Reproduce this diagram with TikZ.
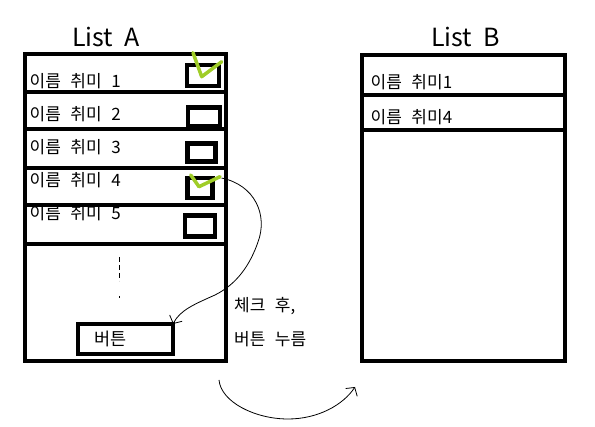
\documentclass[tikz,border=0pt]{standalone}
\usepackage{fontspec}
\setmainfont{Noto Sans CJK KR}[WordSpace=2.5]
\newfontfamily\titlefont{Noto Sans CJK KR}[WordSpace=2]
\usetikzlibrary{arrows.meta}
\definecolor{tickgreen}{RGB}{160,205,40}

\begin{document}
\begin{tikzpicture}[x=1pt, y=-1pt,
    listbox/.style={draw, line width=4pt, outer sep=0pt, inner sep=0pt, anchor=north west},
    rowline/.style={line width=4pt},
    chkbox/.style={draw, line width=4.5pt, outer sep=0pt, inner sep=0pt},
    tick/.style={draw=tickgreen, line width=3.5pt, line cap=round, line join=round},
    rowtext/.style={anchor=base west, inner sep=0pt, font=\fontsize{17}{20}\selectfont},
    title/.style={anchor=base west, inner sep=0pt, font=\titlefont\fontsize{25}{30}\selectfont},
    note/.style={anchor=base west, inner sep=0pt, font=\fontsize{17}{20}\selectfont},
    btnbox/.style={draw, line width=4pt, outer sep=0pt, inner ysep=0pt, inner xsep=16.5pt, text width=62pt, align=left, minimum height=30pt, font=\fontsize{17.5}{20}\selectfont},
    arrow/.style={-{Straight Barb[length=6pt, width=14pt]}, line width=0.8pt}
]
\useasboundingbox (0,0) rectangle (595,427);

% titles
\node[title] (titleA) at (72,46.7) {List A};
\node[title] (titleB) at (431,46.7) {List B};

% rows of list A
\node[rowtext] (rowA1) at (29.5,88) {이름 취미 1};
\node[rowtext] (rowA2) at (29.5,120.5) {이름 취미 2};
\node[rowtext] (rowA3) at (29.5,153.5) {이름 취미 3};
\node[rowtext] (rowA4) at (29.5,186.7) {이름 취미 4};
\node[rowtext] (rowA5) at (29.5,220) {이름 취미 5};

% rows of list B
\node[rowtext] (rowB1) at (370.5,88.3) {이름 취미1};
\node[rowtext] (rowB2) at (370.5,123.3) {이름 취미4};

% lists
\node[listbox, minimum width=201pt, minimum height=306.5pt] (listA) at (24.5,54.5) {};
\node[listbox, minimum width=203.5pt, minimum height=305.5pt] (listB) at (361.5,55.5) {};
\foreach \y in {92,129,167.7,204.7,244}
    \draw[rowline] (24.5,\y) -- (225.5,\y);
\foreach \y in {95,130.5}
    \draw[rowline] (361.5,\y) -- (565,\y);

% check boxes
\node[chkbox, minimum width=32pt, minimum height=20.6pt] (chk1) at (203,75.5) {};
\node[chkbox, minimum width=32pt, minimum height=19pt] (chk2) at (204,117) {};
\node[chkbox, minimum width=28pt, minimum height=18pt] (chk3) at (201.7,152.7) {};
\node[chkbox, minimum width=25pt, minimum height=20pt] (chk4) at (200,188) {};
\node[chkbox, minimum width=30pt, minimum height=21pt] (chk5) at (200,226) {};

\draw[tick] (193,52.7) -- (201.7,76.7) -- (221.7,61.7);
\draw[tick] (190.7,175) -- (199,186.7) -- (220,176.7);

% more rows
\draw[line width=0.8pt, dash pattern=on 5pt off 3pt] (119.5,257) -- (119.5,281);
\draw[line width=0.8pt] (119.5,296) -- (119.5,298.5);

% button
\node[btnbox, minimum width=95pt] (btn) at (125.5,339) {버튼};

\node[note] (step1) at (234,312) {체크 후,};
\node[note] (step2) at (234,345.5) {버튼 누름};

% arrows
\draw[arrow] ([xshift=9pt]chk4.north east) .. controls (255,185) and (268,215) .. (258,242)
    .. controls (250,265) and (237,284) .. (215,295)
    .. controls (195,304) and (180,310) .. (btn.north east);
\draw[arrow] ([shift={(-6.5,19)}]listA.south east) .. controls (221,402) and (255,419) .. (288,419)
    .. controls (318,419) and (343,405) .. ([shift={(-6.5,26)}]listB.south west);
\end{tikzpicture}
\end{document}
